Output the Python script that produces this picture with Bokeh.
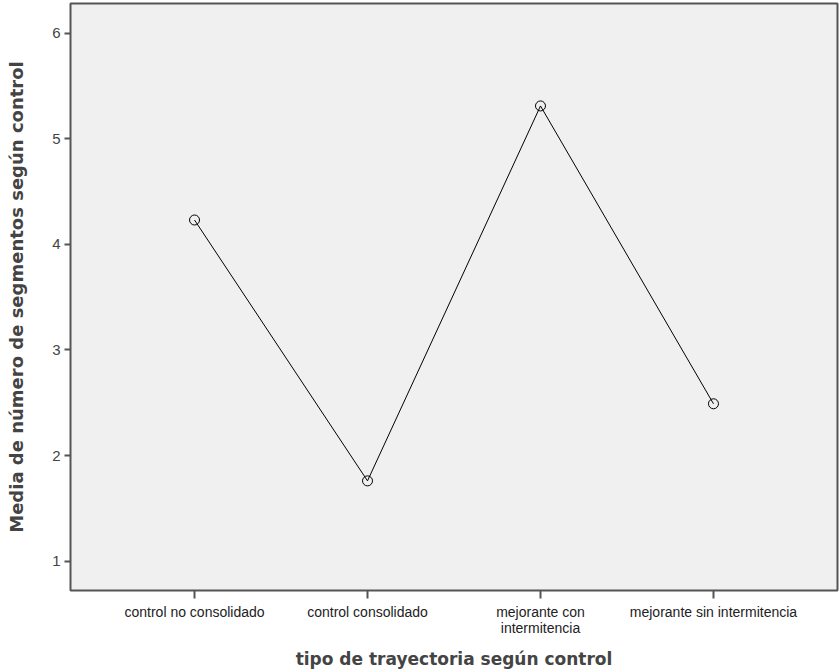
from bokeh.plotting import figure
from bokeh.models import FixedTicker, Range1d
from bokeh.embed import file_html
from bokeh.resources import INLINE

categories = ["control no consolidado", "control consolidado",
              "mejorante con\nintermitencia", "mejorante sin intermitencia"]
means = [4.23, 1.76, 5.31, 2.49]
y_ticks = [1, 2, 3, 4, 5, 6]

xs = list(range(len(categories)))

p = figure(width=840, height=671, output_backend="svg", toolbar_location=None,
           x_range=Range1d(-0.717, 3.717), y_range=Range1d(0.722, 6.28),
           min_border_left=70, min_border_right=3, min_border_top=3, min_border_bottom=81)
p.background_fill_color = "#F0F0F0"
p.border_fill_color = "white"
p.outline_line_color = "#555555"
p.outline_line_width = 2
p.grid.visible = False

p.line(xs, means, line_color="black", line_width=1)
p.scatter(xs, means, marker="circle", size=10, fill_color=None, line_color="black", line_width=1)

p.xaxis.ticker = FixedTicker(ticks=xs)
p.xaxis.major_label_overrides = {i: c for i, c in enumerate(categories)}
p.xaxis.minor_tick_line_color = None
p.xaxis.major_tick_out = 8
p.xaxis.major_tick_in = 0
p.xaxis.major_tick_line_color = "#555555"
p.xaxis.major_tick_line_width = 2
p.xaxis.axis_line_color = "#555555"
p.xaxis.major_label_text_font = "Liberation Sans"
p.xaxis.major_label_text_font_size = "14px"
p.xaxis.major_label_text_color = "#222222"
p.xaxis.major_label_text_line_height = 1.0
p.xaxis.major_label_standoff = 5
p.xaxis.axis_label = "tipo de trayectoria según control"
p.xaxis.axis_label_text_font = "DejaVu Sans"
p.xaxis.axis_label_text_font_style = "bold"
p.xaxis.axis_label_text_font_size = "17px"
p.xaxis.axis_label_standoff = 10

p.yaxis.ticker = FixedTicker(ticks=y_ticks)
p.yaxis.minor_tick_line_color = None
p.yaxis.major_tick_out = 6
p.yaxis.major_tick_in = 0
p.yaxis.major_tick_line_color = "#555555"
p.yaxis.major_tick_line_width = 2
p.yaxis.axis_line_color = "#555555"
p.yaxis.major_label_text_font = "Liberation Sans"
p.yaxis.major_label_text_font_size = "15px"
p.yaxis.major_label_text_color = "#444444"
p.yaxis.major_label_standoff = 4
p.yaxis.axis_label = "Media de número de segmentos según control"
p.yaxis.axis_label_text_font = "DejaVu Sans"
p.yaxis.axis_label_text_font_style = "bold"
p.yaxis.axis_label_text_font_size = "18px"
p.yaxis.axis_label_standoff = 22

open("out.html", "w").write(file_html(p, INLINE))
